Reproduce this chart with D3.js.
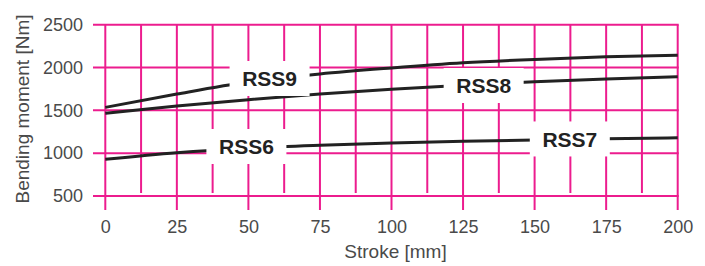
<!DOCTYPE html>
<html>
<head>
<meta charset="utf-8">
<script src="https://cdn.jsdelivr.net/npm/d3@7.9.0/dist/d3.min.js"></script>
<style>
  body { margin: 0; background: #fff; }
  svg { display: block; font-family: 'Liberation Sans', Arial, sans-serif; }
</style>
</head>
<body>
<svg id="chart"></svg>
<script>
// stroke [mm] sample points
const strokes = [0, 25, 50, 75, 100, 125, 150, 175, 200];
// bending moment [Nm]
const rss9 = [1535, 1690, 1830, 1925, 1995, 2055, 2095, 2125, 2143];
const rss8 = [1466, 1550, 1625, 1690, 1745, 1793, 1835, 1867, 1893];
const rss67 = [928, 1005, 1058, 1092, 1118, 1138, 1155, 1168, 1180];

const xTicks = [0, 25, 50, 75, 100, 125, 150, 175, 200];
const yTicks = [500, 1000, 1500, 2000, 2500];
const xGrid = d3.range(0, 201, 12.5);

// label anchors (stroke, moment)
const labelNames = ['RSS9', 'RSS8', 'RSS6', 'RSS7'];
const labelStroke = [57.4, 132.2, 49.3, 162.3];
const labelMoment = [1872, 1790, 1078, 1166];

function renderPlot() {
  const width = 705;
  const height = 266;
  const pink = '#ec1c8e';
  const textColor = '#4a4a4a';

  const svg = d3.select('#chart')
    .attr('width', width)
    .attr('height', height);

  const xScale = d3.scaleLinear().domain([0, 200]).range([105.3, 677.7]);
  const yScale = d3.scaleLinear().domain([500, 2500]).range([196, 24.7]);

  // grid
  const grid = svg.append('g').attr('class', 'grid');
  grid.selectAll('line.h')
    .data(yTicks)
    .join('line')
      .attr('class', 'h')
      .attr('x1', 93)
      .attr('x2', xScale(200) + 1)
      .attr('y1', d => yScale(d))
      .attr('y2', d => yScale(d))
      .attr('stroke', pink)
      .attr('stroke-width', 2);

  grid.selectAll('line.v')
    .data(xGrid)
    .join('line')
      .attr('class', 'v')
      .attr('x1', d => xScale(d))
      .attr('x2', d => xScale(d))
      .attr('y1', yScale(2500))
      .attr('y2', d => d % 25 === 0 ? 210 : yScale(500) - 3)
      .attr('stroke', pink)
      .attr('stroke-width', 2);

  // axes (labels only)
  const yAxis = svg.append('g')
    .attr('transform', 'translate(93,0)')
    .call(d3.axisLeft(yScale).tickValues(yTicks).tickFormat(d3.format('d')).tickSize(0).tickPadding(10));
  const xAxis = svg.append('g')
    .attr('transform', `translate(0,${yScale(500)})`)
    .call(d3.axisBottom(xScale).tickValues(xTicks).tickFormat(d3.format('d')).tickSize(0).tickPadding(24));
  [xAxis, yAxis].forEach(a => {
    a.select('.domain').remove();
    a.selectAll('text')
      .attr('fill', textColor)
      .style('font-size', '18px')
      .style('font-family', "'Liberation Sans', Arial, sans-serif");
  });

  svg.append('text')
    .attr('x', xScale(100) + 4)
    .attr('y', 258)
    .attr('text-anchor', 'middle')
    .attr('fill', textColor)
    .style('font-size', '19px')
    .text('Stroke [mm]');

  svg.append('text')
    .attr('transform', `translate(29,${(yScale(500) + 10) / 2 + 6}) rotate(-90)`)
    .attr('text-anchor', 'middle')
    .attr('fill', textColor)
    .style('font-size', '19px')
    .text('Bending moment [Nm]');

  // curves
  const line = d3.line()
    .x((d, i) => xScale(strokes[i]))
    .y(d => yScale(d))
    .curve(d3.curveMonotoneX);

  svg.selectAll('path.curve')
    .data([rss9, rss8, rss67])
    .join('path')
      .attr('class', 'curve')
      .attr('fill', 'none')
      .attr('stroke', '#222')
      .attr('stroke-width', 3)
      .attr('d', line);

  // labels with white boxes
  const labels = svg.selectAll('g.label')
    .data(labelNames)
    .join('g')
      .attr('class', 'label')
      .attr('transform', (d, i) => `translate(${xScale(labelStroke[i])},${yScale(labelMoment[i])})`);

  labels.append('rect')
    .attr('x', -40)
    .attr('y', -17.5)
    .attr('width', 80)
    .attr('height', 35)
    .attr('fill', '#fff');

  labels.append('text')
    .attr('text-anchor', 'middle')
    .attr('dy', '0.36em')
    .attr('fill', '#222')
    .style('font-size', '21px')
    .style('font-weight', 'bold')
    .text(d => d);
}

renderPlot();
</script>
</body>
</html>
